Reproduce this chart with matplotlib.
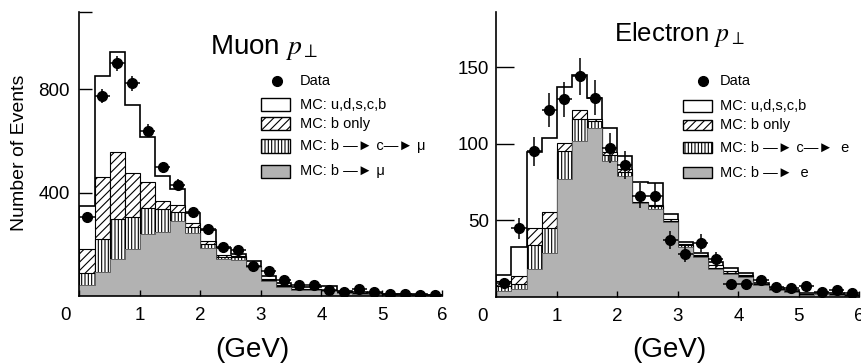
import numpy as np
import matplotlib
matplotlib.use("Agg")
import matplotlib.pyplot as plt
from matplotlib.patches import Rectangle

plt.rcParams['font.family'] = ['Liberation Sans', 'DejaVu Sans']
plt.rcParams['mathtext.fontset'] = 'stix'
plt.rcParams['hatch.linewidth'] = 0.8

# ---------------- data ----------------
bin_edges = np.arange(0, 6.001, 0.25)
bin_centers = bin_edges[:-1] + 0.125

# Muon panel (layer tops, events per bin)
mu_data = [307, 774, 900, 823, 640, 498, 430, 324, 258, 190, 178, 117,
           96, 63, 42, 42, 23, 17, 26, 14, 6, 6, 5, 5]
mu_err = [18, 28, 30, 29, 25, 22, 21, 18, 16, 14, 13, 11,
          10, 8, 6, 6, 5, 4, 5, 4, 3, 3, 2, 2]
mu_mc_all = [350, 851, 943, 739, 617, 464, 413, 320, 255, 185, 163, 135,
             77, 50, 36, 35, 37, 20, 17, 13, 9, 8, 6, 5]
mu_mc_b = [180, 460, 559, 477, 442, 366, 354, 282, 212, 160, 155, 118,
           64, 42, 28, 26, 24, 14, 11, 9, 6, 5, 4, 3]
mu_mc_bc = [88, 222, 298, 307, 339, 335, 326, 268, 200, 152, 150, 114,
            60, 39, 26, 24, 22, 12, 10, 8, 5, 4, 3, 3]
mu_mc_bmu = [43, 92, 142, 180, 240, 249, 290, 245, 185, 145, 140, 111,
             57, 36, 23, 22, 20, 11, 9, 7, 5, 4, 3, 2]

# Electron panel (layer tops, events per bin)
e_data = [9, 44.6, 95, 122, 129, 144, 130, 97, 86, 66, 66, 37,
          28, 35, 24.4, 8.3, 8.1, 10.9, 6.5, 5.9, 7.2, 2.9, 4.4, 2.2]
e_err = [3, 6.7, 9.7, 11, 11.4, 12, 11.4, 9.8, 9.3, 8.1, 8.1, 6.1,
         5.3, 5.9, 4.9, 2.9, 2.8, 3.3, 2.5, 2.4, 2.7, 1.7, 2.1, 1.5]
e_mc_all = [14, 32.6, 94.6, 104, 137, 145, 130, 110, 92, 75, 74, 54,
            35.9, 28.7, 22.5, 18.5, 15.2, 8.7, 5.4, 4.4, 2.2, 2.6, 2.2, 1.1]
e_mc_b = [10, 13.4, 44.7, 55.3, 100.7, 122, 116, 94.6, 83.5, 62, 60, 51,
          34.5, 27.5, 20.5, 17, 14.5, 8, 5, 3.5, 1.6, 2, 1.5, 0.8]
e_mc_bc = [7, 8.6, 33.8, 44.7, 95.2, 116, 115, 92.4, 81.5, 61.5, 59, 49.5,
           33.5, 26.5, 19, 15.5, 13.5, 7.8, 4.8, 3.2, 1.4, 1.8, 1.2, 0.7]
e_mc_be = [4, 5.3, 18.4, 28.7, 77.2, 102, 110.5, 88.7, 79, 61, 57.5, 48.9,
           32.6, 25.7, 17.9, 15, 13, 7.6, 4.4, 2.9, 1.1, 1.5, 0.9, 0.5]

x_ticks = [0, 1, 2, 3, 4, 5, 6]
mu_yticks = [400, 800, 1100]
mu_yticklabels = ['400', '800', '']
e_yticks = [50, 100, 150]
e_yticklabels = ['50', '100', '150']

GRAY = '#b2b2b2'

fig = plt.figure(figsize=(8.61, 3.63), dpi=100)
ax1 = fig.add_axes([0.0923, 0.1846, 0.4216, 0.783])
ax2 = fig.add_axes([0.5765, 0.1826, 0.4216, 0.784])


def draw_panel(ax, tot, b, bc, bl, data, err, ylim, yticks, ylabels, ytick_len, ypad):
    w = 0.25
    ax.stairs(tot, bin_edges, fill=True, facecolor='white', edgecolor='none', zorder=1)
    ax.stairs(tot, bin_edges, baseline=0, color='black', linewidth=1.2, zorder=1.1)
    ax.bar(bin_centers, b, width=w, facecolor='white', edgecolor='black',
           hatch='////', linewidth=0.8, zorder=1.2)
    ax.bar(bin_centers, bc, width=w, facecolor='white', edgecolor='black',
           hatch='|||||', linewidth=0.8, zorder=1.3)
    ax.bar(bin_centers, bl, width=w, facecolor=GRAY, edgecolor='none', zorder=1.4)
    ax.stairs(bl, bin_edges, baseline=None, color='#555555', linewidth=0.6, zorder=1.5)
    ax.errorbar(bin_centers, data, yerr=err, xerr=0.125, fmt='o', color='black',
                ms=7, elinewidth=1.1, capsize=0, zorder=3)
    ax.set_xlim(0, 6)
    ax.set_ylim(*ylim)
    ax.spines['top'].set_visible(False)
    ax.spines['right'].set_visible(False)
    for s in ('left', 'bottom'):
        ax.spines[s].set_linewidth(1.2)
        ax.spines[s].set_zorder(4)
    ax.set_xticks(x_ticks)
    ax.set_xticklabels([''] + [str(t) for t in x_ticks[1:]])
    ax.set_yticks(yticks)
    ax.set_yticklabels(ylabels)
    ax.tick_params(axis='x', direction='in', length=4, width=1, pad=8, labelsize=13.5)
    ax.tick_params(axis='y', direction='in', length=ytick_len, width=1, pad=ypad, labelsize=13.5)
    ax.annotate('0', xy=(0, 0), xycoords='data', xytext=(-10, -14),
                textcoords='offset points', ha='center', va='center', fontsize=13.5)
    ax.patch.set_alpha(0)


draw_panel(ax1, mu_mc_all, mu_mc_b, mu_mc_bc, mu_mc_bmu, mu_data, mu_err,
           (0, 1100), mu_yticks, mu_yticklabels, 9, 6.8)
draw_panel(ax2, e_mc_all, e_mc_b, e_mc_bc, e_mc_be, e_data, e_err,
           (0, 186), e_yticks, e_yticklabels, 13, 5)


def legend(ax, xm, ym, xt, xb, wb, rows, labels):
    ax.plot([xm], [ym], 'o', color='black', ms=7, transform=ax.transAxes, clip_on=False, zorder=5)
    ax.text(xt, ym, 'Data', transform=ax.transAxes, ha='left', va='center', fontsize=10.5)
    styles = [dict(facecolor='white', hatch=None),
              dict(facecolor='white', hatch='////'),
              dict(facecolor='white', hatch='|||||'),
              dict(facecolor=GRAY, hatch=None)]
    for (y0, y1), st, lab in zip(rows, styles, labels):
        r = Rectangle((xb, y0), wb, y1 - y0, transform=ax.transAxes, edgecolor='black',
                      linewidth=1.0, zorder=5, clip_on=False, **st)
        ax.add_patch(r)
        ax.text(xt, (y0 + y1) / 2, lab, transform=ax.transAxes, ha='left', va='center',
                fontsize=10.5, zorder=5)


arrow = '\u2014\u25ba'
legend(ax1, 0.543, 0.757, 0.607, 0.499, 0.081,
       [(0.652, 0.695), (0.584, 0.629), (0.504, 0.551), (0.414, 0.462)],
       ['MC: u,d,s,c,b', 'MC: b only', 'MC: b ' + arrow + ' c' + arrow + ' \u03bc',
        'MC: b ' + arrow + ' \u03bc'])
legend(ax2, 0.569, 0.758, 0.615, 0.513, 0.080,
       [(0.650, 0.691), (0.586, 0.620), (0.504, 0.544), (0.416, 0.457)],
       ['MC: u,d,s,c,b', 'MC: b only', 'MC: b ' + arrow + ' c' + arrow + '  e',
        'MC: b ' + arrow + '  e'])

ax1.text(2.15, 935, r'Muon $p_{\perp}$', fontsize=20, ha='left', va='baseline')
ax2.text(1.95, 167, r'Electron $p_{\perp}$', fontsize=18.5, ha='left', va='baseline')

fig.text(0.023, 0.58, 'Number of Events', rotation=90, ha='center', va='center', fontsize=14)
fig.text(0.2927, 0.036, '(GeV)', ha='center', va='center', fontsize=20)
fig.text(0.778, 0.036, '(GeV)', ha='center', va='center', fontsize=20)

fig.savefig('out.png', dpi=100)
